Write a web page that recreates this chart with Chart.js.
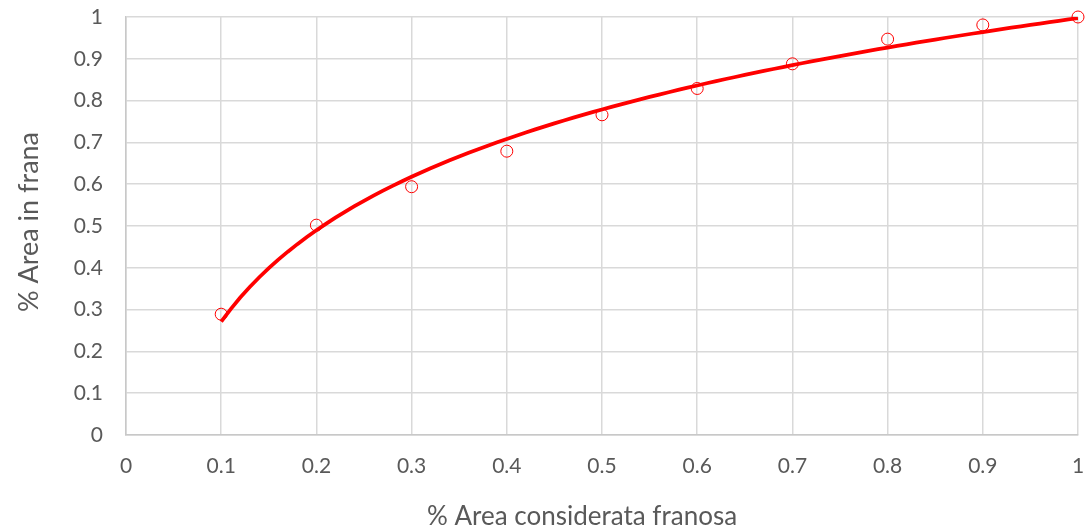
<!DOCTYPE html>
<html>
<head>
<meta charset="utf-8">
<script src="https://cdn.jsdelivr.net/npm/chart.js@4/dist/chart.umd.min.js"></script>
<style>
  html, body { margin: 0; padding: 0; background: #ffffff; }
  #wrap { width: 1089px; height: 532px; position: relative; }
</style>
</head>
<body>
<div id="wrap"><canvas id="chart" width="1089" height="532"></canvas></div>
<script>
// Observed share of landslide area vs. share of area flagged as landslide-prone
const areaConsiderata = [0.1, 0.2, 0.3, 0.4, 0.5, 0.6, 0.7, 0.8, 0.9, 1.0];
const areaInFrana     = [0.289, 0.502, 0.594, 0.679, 0.766, 0.829, 0.888, 0.947, 0.981, 1.0];
const tickValues      = [0, 0.1, 0.2, 0.3, 0.4, 0.5, 0.6, 0.7, 0.8, 0.9, 1];
const xTitle = '% Area considerata franosa';
const yTitle = '% Area in frana';

// Logarithmic trend line y = a*ln(x) + b, least-squares fit on the observations
function logFit(xs, ys) {
  const n = xs.length;
  const lx = xs.map(Math.log);
  const mx = lx.reduce((s, v) => s + v, 0) / n;
  const my = ys.reduce((s, v) => s + v, 0) / n;
  let sxy = 0, sxx = 0;
  for (let i = 0; i < n; i++) {
    sxy += (lx[i] - mx) * (ys[i] - my);
    sxx += (lx[i] - mx) * (lx[i] - mx);
  }
  const a = sxy / sxx;
  return { a: a, b: my - a * mx };
}
const fit = logFit(areaConsiderata, areaInFrana);
const xMin = areaConsiderata[0], xMax = areaConsiderata[areaConsiderata.length - 1];
const trendPoints = [];
for (let i = 0; i <= 90; i++) {
  const x = xMin + (xMax - xMin) * i / 90;
  trendPoints.push({ x: x, y: fit.a * Math.log(x) + fit.b });
}

const FONT = "Lato, 'Liberation Sans', sans-serif";
const TEXT = '#595959';
const GRID = '#d9d9d9';

// Axis titles placed as in the spreadsheet layout (x title slightly left of centre)
const axisTitles = {
  id: 'axisTitles',
  afterDraw(chart) {
    const ctx = chart.ctx;
    const area = chart.chartArea;
    ctx.save();
    ctx.fillStyle = TEXT;
    ctx.textAlign = 'center';
    ctx.textBaseline = 'middle';
    ctx.font = '26px ' + FONT;
    ctx.fillText(xTitle, (area.left + area.right) / 2 - 20, 517);
    ctx.font = '27px ' + FONT;
    ctx.translate(29, (area.top + area.bottom) / 2 - 4);
    ctx.rotate(-Math.PI / 2);
    ctx.fillText(yTitle, 0, 0);
    ctx.restore();
  }
};

// keep the plot rectangle fixed: no extra room for overhanging tick labels
function fixBox(axis, size) {
  if (axis.isHorizontal()) axis.height = size; else axis.width = size;
  axis.paddingTop = 0; axis.paddingBottom = 0; axis.paddingLeft = 0; axis.paddingRight = 0;
}

new Chart(document.getElementById('chart'), {
  type: 'scatter',
  data: {
    datasets: [
      {
        label: 'Tendenza logaritmica',
        data: trendPoints,
        showLine: true,
        borderColor: '#ff0000',
        borderWidth: 3.75,
        pointRadius: 0,
        tension: 0,
        order: 0
      },
      {
        label: yTitle,
        data: areaConsiderata.map((x, i) => ({ x: x, y: areaInFrana[i] })),
        showLine: false,
        clip: false,
        pointStyle: 'circle',
        pointRadius: 6,
        pointBorderWidth: 1,
        pointBorderColor: '#ff0000',
        pointBackgroundColor: 'rgba(0,0,0,0)',
        order: 1
      }
    ]
  },
  options: {
    responsive: false,
    animation: false,
    layout: { padding: { left: 0, right: 11, top: 17, bottom: 0 } },
    plugins: { legend: { display: false }, tooltip: { enabled: false } },
    scales: {
      x: {
        type: 'linear',
        min: 0, max: 1,
        afterBuildTicks: (axis) => { axis.ticks = tickValues.map(v => ({ value: v })); },
        afterFit: (axis) => fixBox(axis, 97),
        grid: { color: GRID, lineWidth: 1.5, drawTicks: false },
        border: { color: '#c8c8c8', width: 1.5 },
        ticks: { color: TEXT, font: { family: FONT, size: 21 }, padding: 19, maxRotation: 0,
                 callback: (v) => String(Math.round(v * 10) / 10) },
        title: { display: false }
      },
      y: {
        type: 'linear',
        min: 0, max: 1,
        afterBuildTicks: (axis) => { axis.ticks = tickValues.map(v => ({ value: v })); },
        afterFit: (axis) => fixBox(axis, 126),
        grid: { color: GRID, lineWidth: 1.5, drawTicks: false },
        border: { color: '#c8c8c8', width: 1.5 },
        ticks: { color: TEXT, font: { family: FONT, size: 21 }, padding: 23,
                 callback: (v) => String(Math.round(v * 10) / 10) },
        title: { display: false }
      }
    }
  },
  plugins: [axisTitles]
});
</script>
</body>
</html>
